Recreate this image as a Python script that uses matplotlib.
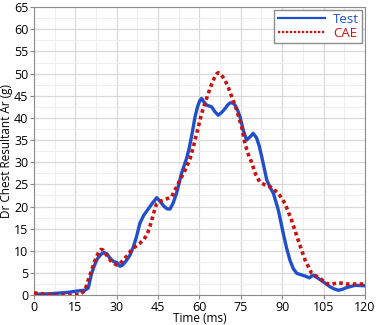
import matplotlib
matplotlib.use("Agg")
import matplotlib.pyplot as plt
from matplotlib.lines import Line2D
from matplotlib.ticker import MultipleLocator

# Test curve (time in ms, acceleration in g)
test_t = [0, 5.8, 12, 16.7, 18.5, 19.7, 20.9, 22.0, 23.0, 24.3, 25.4, 26.5, 27.5, 28.8, 30.2,
          31.2, 32.2, 33.5, 34.8, 36.0, 37.2, 38.4, 39.8, 41.4, 43.0, 44.5, 45.7, 46.9,
          48.2, 49.3, 50.5, 51.7, 52.6, 53.5, 54.5, 55.4, 56.3, 57.2, 58.4, 59.3, 60.2,
          60.8, 61.6, 62.6, 63.5, 64.4, 65.6, 66.8, 68.0, 69.3, 70.2, 71.1, 72.0, 72.9,
          73.8, 74.7, 75.9, 77.1, 78.3, 79.5, 80.7, 81.7, 82.6, 83.5, 84.4, 85.6, 86.8,
          88.6, 90.4, 91.6, 92.8, 94.0, 95.3, 96.8, 98.3, 99.8, 101.3, 103.0, 104.9,
          107.3, 108.8, 110.3, 111.8, 113.4, 116.4, 120]
test_g = [0.2, 0.3, 0.6, 1.0, 1.1, 1.6, 4.9, 6.8, 8.2, 9.2, 9.6, 9.3, 8.4, 7.6, 7.3,
          6.5, 6.8, 7.8, 9.0, 10.8, 13.2, 16.2, 18.0, 19.4, 20.8, 22.0, 21.2, 20.2,
          19.5, 19.4, 20.8, 23.0, 25.2, 27.5, 29.3, 31.0, 33.2, 36.0, 40.2, 42.5, 44.0,
          44.4, 43.6, 42.9, 42.7, 42.5, 41.4, 40.6, 41.2, 42.1, 42.9, 43.4, 43.4, 42.9,
          41.8, 40.3, 37.2, 35.0, 35.7, 36.5, 35.5, 33.6, 31.2, 28.6, 26.0, 24.3, 23.0,
          19.2, 13.9, 10.6, 7.9, 6.0, 4.9, 4.6, 4.3, 3.9, 4.5, 3.8, 3.0,
          1.9, 1.4, 1.1, 1.3, 1.7, 2.2, 2.1]

# CAE curve
cae_t = [0, 5.8, 12, 16.7, 18.5, 19.7, 20.9, 21.8, 22.7, 23.5, 24.3, 25.0, 25.7, 27.0,
         28.2, 30.0, 31.2, 32.4, 33.9, 35.4, 36.9, 38.4, 39.7, 40.9, 41.8, 42.7, 43.6,
         44.5, 45.7, 46.9, 48.4, 49.9, 51.7, 53.2, 54.8, 56.6, 57.8, 59.0, 60.8, 62.0,
         63.2, 64.4, 65.6, 66.2, 66.8, 67.5, 68.4, 69.3, 70.5, 71.7, 73.5, 75.3, 76.5,
         77.7, 78.9, 80.4, 81.9, 83.7, 85.6, 88.6, 91.0, 93.4, 95.8, 98.3, 100.7,
         103.7, 106.1, 108.2, 110.3, 113.4, 120]
cae_g = [0.5, 0.1, 0.0, 0.1, 1.1, 3.4, 5.6, 7.3, 8.7, 9.7, 10.3, 10.2, 9.6, 8.4,
         7.5, 6.8, 7.1, 7.9, 9.0, 10.2, 11.0, 11.7, 12.5, 13.5, 15.0, 16.9, 18.9,
         20.7, 21.2, 21.4, 21.8, 22.2, 24.4, 26.3, 28.2, 30.8, 33.5, 36.5, 41.0, 43.3,
         45.5, 47.6, 49.3, 49.9, 50.2, 50.0, 49.3, 48.5, 46.8, 44.8, 41.8, 38.0, 34.2,
         31.8, 30.0, 27.2, 25.5, 24.9, 24.5, 23.0, 20.7, 16.9, 12.4, 7.9, 4.9,
         3.8, 2.6, 2.5, 2.8, 2.5, 2.5]

blue = '#1f4fcc'
red = '#cc1111'

plt.rcParams['font.family'] = ['Open Sans', 'DejaVu Sans']

fig = plt.figure(figsize=(3.77, 3.25), dpi=100)
ax = fig.add_axes([0.090, 0.092, 0.878, 0.886])

ax.plot(test_t, test_g, color=blue, lw=2.4, solid_joinstyle='round', zorder=3)
ax.plot(cae_t, cae_g, color=red, lw=2.6, linestyle=(0, (1, 0.9)), zorder=4)

ax.set_xlim(0, 120)
ax.set_ylim(0, 65)
ax.xaxis.set_major_locator(MultipleLocator(15))
ax.xaxis.set_minor_locator(MultipleLocator(7.5))
ax.yaxis.set_major_locator(MultipleLocator(5))
ax.yaxis.set_minor_locator(MultipleLocator(2.5))
ax.grid(which='major', color='#d8d8d8', lw=0.9)
ax.grid(which='minor', color='#eeeeee', lw=0.8)
ax.set_axisbelow(True)
ax.tick_params(which='major', labelsize=9, length=3, color='#888888', pad=1)
ax.tick_params(which='minor', length=0)
for s in ax.spines.values():
    s.set_color('#8c8c8c')

ax.set_xlabel('Time (ms)', fontsize=8.5, labelpad=-1)
ax.set_ylabel('Dr Chest Resultant Ar (g)', fontsize=8.5, labelpad=1)

handles = [Line2D([], [], color=blue, lw=1.6), Line2D([], [], color=red, lw=1.6, linestyle=(0, (1, 0.8)))]
leg = ax.legend(handles, ['Test', 'CAE'], loc='upper right', fontsize=9.5, labelcolor=[blue, red],
                frameon=True, fancybox=False, edgecolor='#8c8c8c', framealpha=1,
                handlelength=3.6, handletextpad=0.6, borderpad=0.25, labelspacing=0.05,
                borderaxespad=0.2)
leg.get_frame().set_linewidth(1.0)

fig.savefig('out.png', dpi=100)
